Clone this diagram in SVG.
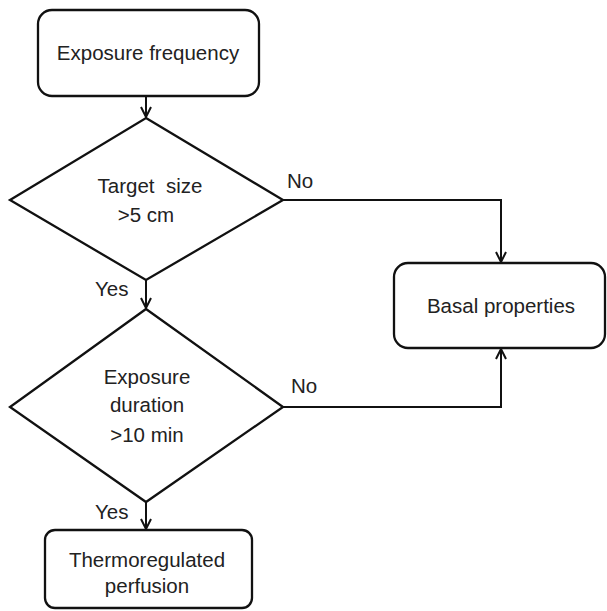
<svg xmlns="http://www.w3.org/2000/svg" width="607" height="611" viewBox="0 0 607 611">
<style>
.shape{fill:#fff;stroke:#111;stroke-width:2.3}
.conn{fill:none;stroke:#111;stroke-width:2}
text{font-family:"Liberation Sans",Arial,sans-serif;font-size:20.5px;fill:#222;text-anchor:middle;white-space:pre}
.lbl{text-anchor:start}
</style>
<defs>
<marker id="arr" viewBox="0 0 12 12" refX="11" refY="6" markerWidth="12" markerHeight="12" markerUnits="userSpaceOnUse" orient="auto">
<path d="M1,1 L11,6 L1,11" fill="none" stroke="#111" stroke-width="2"/>
</marker>
</defs>
<rect width="607" height="611" fill="#fff"/>
<g id="connectors">
<line class="conn" x1="146" y1="96" x2="146" y2="117" marker-end="url(#arr)"/>
<line class="conn" x1="146" y1="280" x2="146" y2="308" marker-end="url(#arr)"/>
<line class="conn" x1="146" y1="502" x2="146" y2="529" marker-end="url(#arr)"/>
<polyline class="conn" points="283,200 501,200 501,262" marker-end="url(#arr)"/>
<polyline class="conn" points="283,407 501,407 501,349" marker-end="url(#arr)"/>
<text class="lbl" x="287" y="188">No</text>
<text class="lbl" x="291" y="393">No</text>
<text class="lbl" x="95" y="296">Yes</text>
<text class="lbl" x="95" y="519">Yes</text>
</g>
<g id="exposure-frequency">
<rect class="shape" x="38" y="10" width="221" height="86" rx="14"/>
<text x="148" y="60">Exposure frequency</text>
</g>
<g id="target-size">
<polygon class="shape" points="146,118 283,200 146,280 10,200"/>
<text x="150" y="193">Target  size</text>
<text x="146" y="222">&gt;5 cm</text>
</g>
<g id="exposure-duration">
<polygon class="shape" points="146,309 283,407 146,502 10,407"/>
<text x="147" y="384">Exposure</text>
<text x="147" y="412">duration</text>
<text x="147" y="442">&gt;10 min</text>
</g>
<g id="basal-properties">
<rect class="shape" x="394" y="263" width="211" height="85" rx="14"/>
<text x="501" y="313">Basal properties</text>
</g>
<g id="thermoregulated-perfusion">
<rect class="shape" x="45" y="530" width="207" height="78" rx="10"/>
<text x="147" y="567">Thermoregulated</text>
<text x="147" y="593">perfusion</text>
</g>
</svg>
